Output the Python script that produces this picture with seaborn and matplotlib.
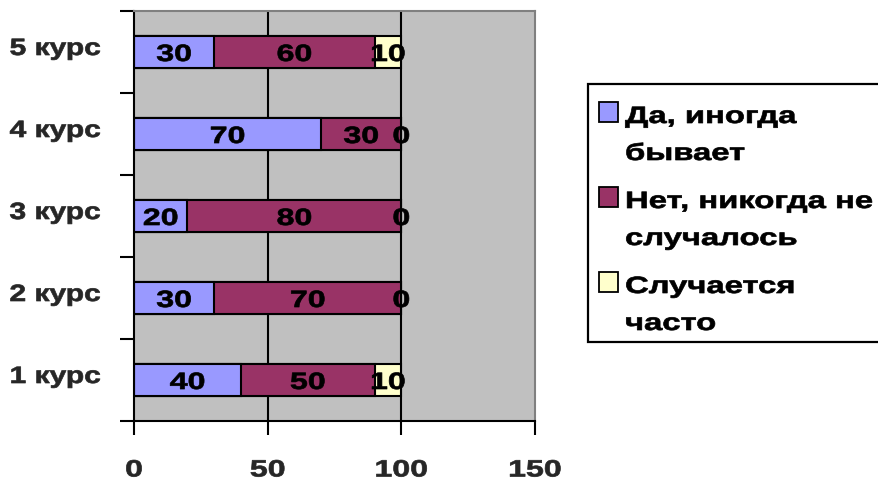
import numpy as np
import pandas as pd
import matplotlib
matplotlib.use("Agg")
import matplotlib.pyplot as plt
import seaborn as sns
from matplotlib.patches import Rectangle
from matplotlib.patheffects import AbstractPathEffect
from matplotlib.transforms import Affine2D, ScaledTranslation

categories = ["5 курс", "4 курс", "3 курс", "2 курс", "1 курс"]
series_names = ["Да, иногда\nбывает", "Нет, никогда не\nслучалось", "Случается\nчасто"]
yes_sometimes = [30, 70, 20, 30, 40]
never = [60, 30, 80, 70, 50]
often = [10, 0, 0, 0, 10]
colors = ["#9999FF", "#993366", "#FFFFCC"]
x_ticks = [0, 50, 100, 150]


class StretchX(AbstractPathEffect):
    """Widen (and slightly embolden) glyphs, as the reference text is drawn wide."""

    def __init__(self, sx, anchor="center", stroke=0.5):
        super().__init__((0, 0))
        self.sx = sx
        self.anchor = anchor
        self.stroke = stroke

    def draw_path(self, renderer, gc, tpath, affine, rgbFace=None):
        ext = tpath.get_extents()
        if self.anchor == "left":
            a = 0.0
        elif self.anchor == "right":
            a = ext.x1
        else:
            a = (ext.x0 + ext.x1) / 2
        t = Affine2D().translate(-a, 0).scale(self.sx, 1).translate(a, 0)
        gc0 = renderer.new_gc()
        gc0.copy_properties(gc)
        gc0.set_linewidth(self.stroke)
        if rgbFace is not None:
            gc0.set_foreground(rgbFace)
        gc0.set_joinstyle("round")
        renderer.draw_path(gc0, tpath, t + affine, rgbFace)
        gc0.restore()


sns.set_theme(style="white")
plt.rcParams["font.family"] = ["Liberation Sans", "DejaVu Sans"]
plt.rcParams["font.weight"] = "bold"

W, H = 879, 485
FS = 17
SX = 1.36

fig = plt.figure(figsize=(W / 100, H / 100), dpi=100)


def fx(px):
    return px / W


def fy(py):
    return 1 - py / H


ax = fig.add_axes([fx(134), fy(422), fx(535) - fx(134), fy(12) - fy(422)])
ax.set_facecolor("#C0C0C0")

series = [yes_sometimes, never, often]
cum = np.cumsum(np.array(series), axis=0)
df = pd.DataFrame({"cat": categories})
for i in range(2, -1, -1):
    df["v"] = cum[i]
    sns.barplot(data=df, x="v", y="cat", order=categories, orient="h",
                color=colors[i], saturation=1, width=0.39,
                edgecolor="black", linewidth=1.5, ax=ax, zorder=3)

for i, vals in enumerate(series):
    for j, v in enumerate(vals):
        t = ax.text(cum[i][j] - v / 2, j, str(v), ha="center",
                    va="center_baseline", fontsize=FS, fontweight="bold",
                    color="black", zorder=5)
        t.set_path_effects([StretchX(SX, "center")])

ax.set_xlim(0, 150)
ax.set_ylim(4.5, -0.5)
ax.set_xticks(x_ticks)
ax.set_xticklabels([str(t) for t in x_ticks], fontsize=FS, fontweight="bold")
ax.tick_params(axis="x", direction="out", length=10, width=1.5, color="black",
               bottom=True, pad=17)
ax.set_yticks(range(len(categories)))
ax.set_yticklabels(categories, fontsize=FS, fontweight="bold", va="baseline")
ax.tick_params(axis="y", which="major", length=0, pad=24)
ax.set_yticks(np.arange(-0.5, len(categories), 1.0), minor=True)
ax.tick_params(axis="y", which="minor", direction="out", length=10, width=1.5,
               color="black", left=True)
ax.set_xlabel("")
ax.set_ylabel("")

off = ScaledTranslation(0, -3 / 100, fig.dpi_scale_trans)
for lab in ax.yaxis.get_majorticklabels():
    lab.set_transform(lab.get_transform() + off)
    lab.set_path_effects([StretchX(1.27, "right")])
for lab in ax.xaxis.get_majorticklabels():
    lab.set_path_effects([StretchX(SX, "center")])

for x in [50, 100]:
    ax.axvline(x, color="black", linewidth=1.5, zorder=1)

for s in ["left", "bottom"]:
    ax.spines[s].set_color("black")
    ax.spines[s].set_linewidth(1.5)
for s in ["top", "right"]:
    ax.spines[s].set_color("#808080")
    ax.spines[s].set_linewidth(1.5)
for s in ax.spines.values():
    s.set_zorder(6)

# legend, laid out like the reference
fig.patches.append(Rectangle((fx(588), fy(343)), fx(900) - fx(588),
                             fy(85) - fy(343), transform=fig.transFigure,
                             facecolor="white", edgecolor="black",
                             linewidth=1.6, zorder=1))
baselines = [124, 209, 294]
line_gap = 37
for name, c, b in zip(series_names, colors, baselines):
    fig.patches.append(Rectangle((fx(599), fy(b - 1)), fx(618) - fx(599),
                                 fy(b - 21) - fy(b - 1),
                                 transform=fig.transFigure, facecolor=c,
                                 edgecolor="black", linewidth=1.3, zorder=2))
    for k, line in enumerate(name.split("\n")):
        t = fig.text(fx(625), fy(b + k * line_gap), line, ha="left",
                     va="baseline", fontsize=FS, fontweight="bold",
                     color="black", zorder=3)
        t.set_path_effects([StretchX(1.39, "left")])

fig.savefig("out.png", dpi=100)
